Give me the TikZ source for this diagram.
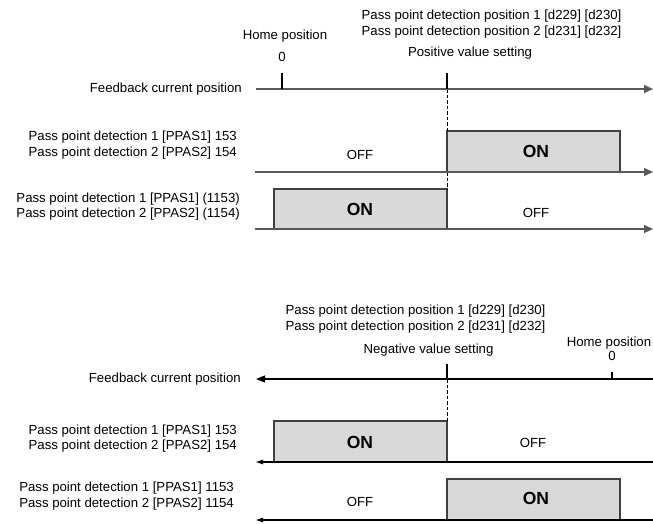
\documentclass[tikz,border=0pt]{standalone}
\usepackage{fontspec}
\setmainfont{Liberation Sans}
\usetikzlibrary{arrows.meta}
\begin{document}
\begin{tikzpicture}[x=1pt,y=-1pt,
  lbl/.style={inner sep=0pt,font=\fontsize{13.2}{15.5}\selectfont},
  lblr/.style={lbl,align=right,anchor=east},
  lblc/.style={lbl,align=center,anchor=center},
  onlbl/.style={inner sep=0pt,font=\fontsize{17.5}{20}\selectfont\bfseries},
  axisA/.style={line width=1.3pt,draw=black!65,-{Triangle[length=9pt,width=8pt]}},
  axisB/.style={line width=1.1pt,draw=black,-{Triangle[length=9pt,width=7pt]}},
  axisC/.style={line width=1.1pt,draw=black,-{Triangle[length=7pt,width=4.5pt]}},
  tickln/.style={line width=1.1pt,draw=black},
  dashln/.style={line width=1pt,draw=black,dash pattern=on 3.5pt off 2pt},
  onbox/.style={line width=1.1pt,draw=black!75,fill=black!15}]
\useasboundingbox (0,0) rectangle (653,523);

% ===== Top section =====
\node[lblc] (ppA) at (491.5,24.2) {Pass point detection position 1 [d229] [d230]\\Pass point detection position 2 [d231] [d232]};
\node[lblc] (homeA) at (285,36) {Home position};
\node[lblc] (zeroA) at (282,56.5) {0};
\node[lblc] (posA) at (470,53) {Positive value setting};
\node[lblr] (fbA) at (242,89) {Feedback current position};
\node[lblr] (r1A) at (237,145) {Pass point detection 1 [PPAS1] 153\\Pass point detection 2 [PPAS2] 154};
\node[lblr] (r2A) at (240,206.5) {Pass point detection 1 [PPAS1] (1153)\\Pass point detection 2 [PPAS2] (1154)};

\coordinate (axA0) at (256,89);
\coordinate (axA1) at (653,89);
\coordinate (thA0) at (282,73);
\coordinate (thA1) at (282,89);
\coordinate (tpA0) at (447,73);
\coordinate (tpA1) at (447,89);
\coordinate (r1A0) at (255,172);
\coordinate (r1A1) at (653,172);
\coordinate (r2A0) at (255,229);
\coordinate (r2A1) at (653,229);

\draw[onbox] (447,131) rectangle (620,172);
\draw[onbox] (274,189) rectangle (447,229);
\draw[dashln] (tpA1) -- (447,131);
\draw[dashln] (447,172) -- (447,189);
\draw[axisA] (axA0) -- (axA1);
\draw[tickln] (thA0) -- (thA1);
\draw[tickln] (tpA0) -- (tpA1);
\draw[axisA] (r1A0) -- (r1A1);
\draw[axisA] (r2A0) -- (r2A1);

\node[lblc] (offA1) at (360,155) {OFF};
\node[onlbl] (onA1) at (536,151) {ON};
\node[onlbl] (onA2) at (360,209) {ON};
\node[lblc] (offA2) at (536,213) {OFF};

% ===== Bottom section =====
\node[lblc] (ppB) at (415.5,319) {Pass point detection position 1 [d229] [d230]\\Pass point detection position 2 [d231] [d232]};
\node[lblc] (negB) at (428.5,350) {Negative value setting};
\node[lblc] (homeB) at (609,343) {Home position};
\node[lblc] (zeroB) at (612,356) {0};
\node[lblr] (fbB) at (241,379) {Feedback current position};
\node[lblr] (r1B) at (237,438.5) {Pass point detection 1 [PPAS1] 153\\Pass point detection 2 [PPAS2] 154};
\node[lblr] (r2B) at (234,496) {Pass point detection 1 [PPAS1] 1153\\Pass point detection 2 [PPAS2] 1154};

\coordinate (axB0) at (653,379);
\coordinate (axB1) at (256,379);
\coordinate (tnB0) at (447,364);
\coordinate (tnB1) at (447,379);
\coordinate (thB0) at (612,372);
\coordinate (thB1) at (612,379);
\coordinate (r1B0) at (653,462);
\coordinate (r1B1) at (256,462);
\coordinate (r2B0) at (653,520);
\coordinate (r2B1) at (256,520);

\draw[onbox] (274,421) rectangle (447,462);
\draw[onbox] (447,479) rectangle (620,520);
\draw[dashln] (tnB1) -- (447,421);
\draw[axisB] (axB0) -- (axB1);
\draw[tickln] (tnB0) -- (tnB1);
\draw[tickln] (thB0) -- (thB1);
\draw[axisC] (r1B0) -- (r1B1);
\draw[axisC] (r2B0) -- (r2B1);

\node[onlbl] (onB1) at (360,442) {ON};
\node[lblc] (offB1) at (533,443) {OFF};
\node[lblc] (offB2) at (360,502) {OFF};
\node[onlbl] (onB2) at (536,498) {ON};
\end{tikzpicture}
\end{document}
